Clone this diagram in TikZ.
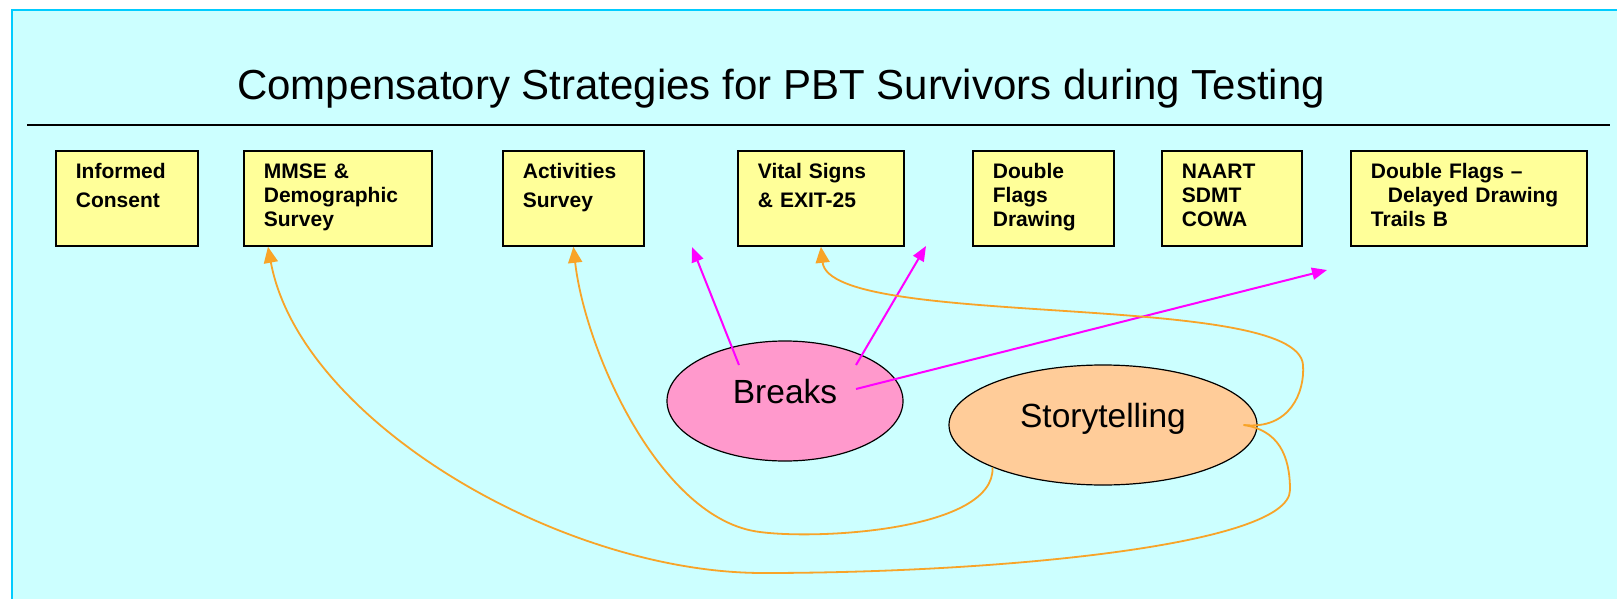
\documentclass[tikz,border=0pt]{standalone}
\usepackage{fontspec}
\setmainfont{Liberation Sans}
\usetikzlibrary{arrows.meta,shapes.geometric}
\definecolor{slidebg}{HTML}{CCFFFF}
\definecolor{slideedge}{HTML}{00CCFF}
\definecolor{boxyellow}{HTML}{FFFF99}
\definecolor{breakpink}{HTML}{FF99CC}
\definecolor{storypeach}{HTML}{FFCC99}
\definecolor{linkorange}{RGB}{248,164,40}
\definecolor{linkmagenta}{HTML}{FF00FF}

\begin{document}
\begin{tikzpicture}[x=1pt,y=-1pt,
    stage/.style={draw,line width=1.8pt,fill=boxyellow,anchor=north west,align=left,
      font=\fontsize{21}{24}\selectfont\bfseries,inner xsep=20pt,inner ysep=13pt,
      text height=15pt,text depth=54pt},
    strategy/.style={ellipse,draw,line width=1.2pt,inner sep=0pt,minimum height=120pt,
      font=\fontsize{33.5}{40}\selectfont,text height=24pt,text depth=19pt},
    brk/.style={linkmagenta,line width=2pt,-{Triangle[length=15pt,width=12pt]}},
    tell/.style={linkorange,line width=1.8pt,-{Triangle[length=16pt,width=14pt]}}]
    \clip (0,0) rectangle (1617,599);
    \fill[slidebg] (12,10) rectangle (1640,620);
    \draw[slideedge,line width=2.5pt] (12,620) -- (12,10) -- (1640,10);
    \node[anchor=base,font=\fontsize{42}{50}\selectfont] (title) at (781,100) {Compensatory Strategies for PBT Survivors during Testing};
    \draw[line width=2pt] (27,125) -- (1610,125);
    \node[stage,text width=102pt] (consent) at (55,150) {Informed\\[5pt]Consent};
    \node[stage,text width=148pt] (mmse) at (243,150) {MMSE \&\\Demographic\\Survey};
    \node[stage,text width=101pt] (act) at (502,150) {Activities\\[5pt]Survey};
    \node[stage,text width=126pt] (vital) at (737,150) {Vital Signs\\[5pt]\& EXIT-25};
    \node[stage,text width=101pt] (flags) at (972,150) {Double\\Flags\\Drawing};
    \node[stage,text width=100pt] (naart) at (1161,150) {NAART\\SDMT\\COWA};
    \node[stage,text width=196pt] (delayed) at (1350,150) {Double Flags --\\\hspace*{17pt}Delayed Drawing\\Trails B};
    \node[strategy,fill=breakpink,minimum width=236pt] (breaks) at (785,401) {Breaks};
    \node[strategy,fill=storypeach,minimum width=308pt] (story) at (1103,425) {Storytelling};
    \coordinate (gap1) at (692,247);
    \coordinate (gap2) at (926,246);
    \coordinate (gap3) at (1327,270);
    \draw[brk] ([shift={(-46,-36)}]breaks.center) -- (gap1);
    \draw[brk] ([shift={(71,-36)}]breaks.center) -- (gap2);
    \draw[brk] ([shift={(71,-12)}]breaks.center) -- (gap3);
    \draw[tell] ([xshift=-14pt]story.east) .. controls (1290,430) and (1305,392) .. (1303,365)
      .. controls (1298,290) and (830,330) .. (vital.south);
    \draw[tell] ([xshift=-14pt]story.east) .. controls (1278,430) and (1290,455) .. (1290,490)
      .. controls (1290,545) and (1000,573) .. (763,573)
      .. controls (560,573) and (300,420) .. ([xshift=25pt]mmse.south west);
    \draw[tell] (story.201) .. controls (995,530) and (820,540) .. (760,532)
      .. controls (660,520) and (585,350) .. (act.south);
\end{tikzpicture}
\end{document}
